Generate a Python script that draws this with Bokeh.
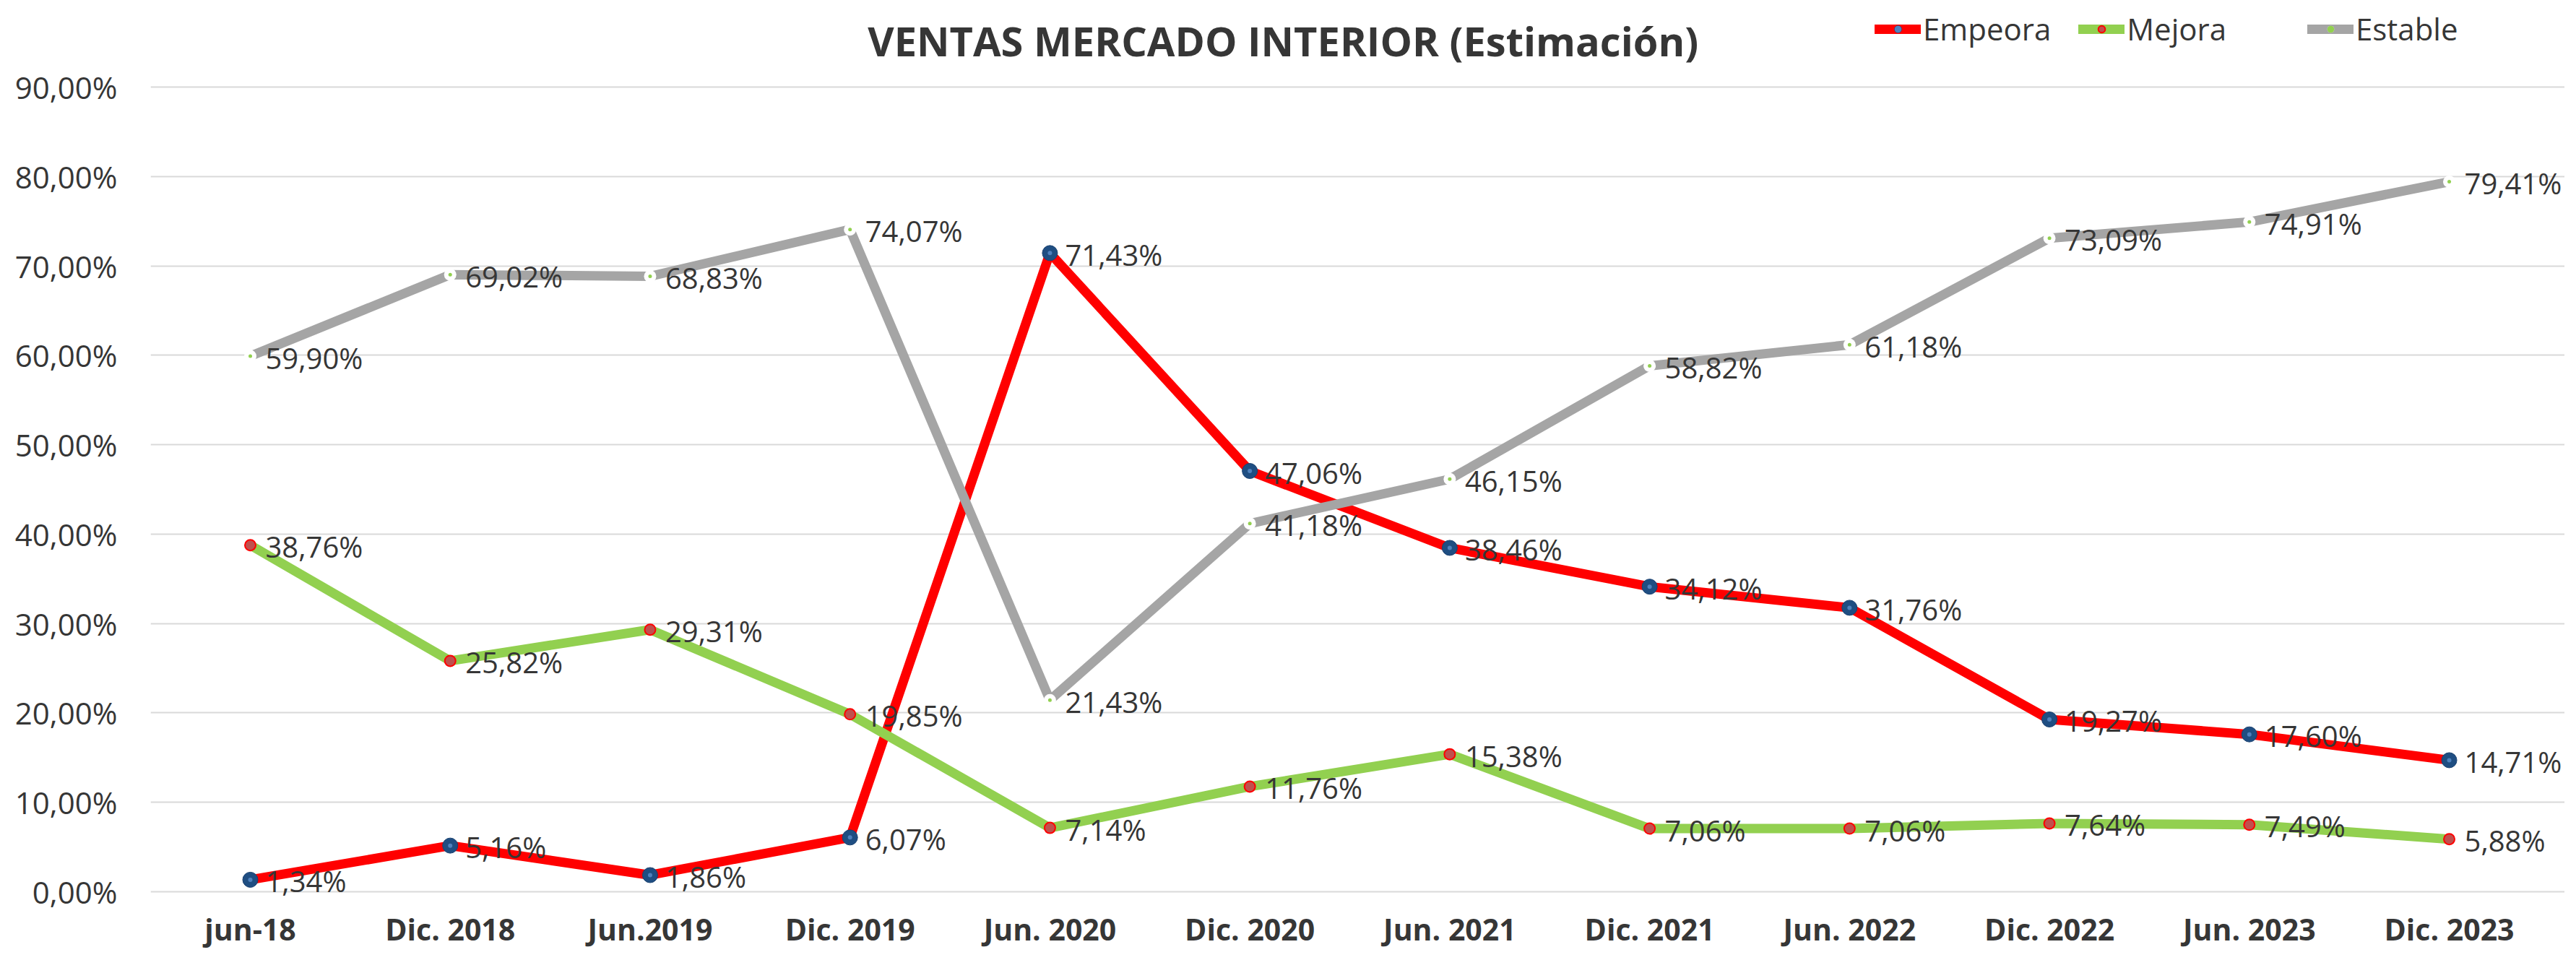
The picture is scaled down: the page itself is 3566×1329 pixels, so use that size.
from bokeh.plotting import figure
from bokeh.models import (Range1d, FixedTicker, Label, Legend, LegendItem,
                          ColumnDataSource)
from bokeh.core.properties import value
from bokeh.embed import file_html
from bokeh.resources import INLINE

categories = ["jun-18", "Dic. 2018", "Jun.2019", "Dic. 2019", "Jun. 2020", "Dic. 2020",
              "Jun. 2021", "Dic. 2021", "Jun. 2022", "Dic. 2022", "Jun. 2023", "Dic. 2023"]
empeora = [1.34, 5.16, 1.86, 6.07, 71.43, 47.06, 38.46, 34.12, 31.76, 19.27, 17.60, 14.71]
mejora = [38.76, 25.82, 29.31, 19.85, 7.14, 11.76, 15.38, 7.06, 7.06, 7.64, 7.49, 5.88]
estable = [59.90, 69.02, 68.83, 74.07, 21.43, 41.18, 46.15, 58.82, 61.18, 73.09, 74.91, 79.41]
y_ticks = [0, 10, 20, 30, 40, 50, 60, 70, 80, 90]
y_tick_labels = ["0,00%", "10,00%", "20,00%", "30,00%", "40,00%", "50,00%",
                 "60,00%", "70,00%", "80,00%", "90,00%"]
title_text = "VENTAS MERCADO INTERIOR  (Estimación)"


def fmt(v):
    return f"{v:.2f}".replace(".", ",") + "%"


# ---- layout (pixels) ----
W, H = 3550, 1313
FL = 208                      # frame left
Y0_PX, Y90_PX = 1234, 120     # where 0% and 90% sit (figure px from top)
PPU_Y = (Y0_PX - Y90_PX) / 90.0
PPU_X = 276.73                # width of one category band
X0_PX = 346                   # centre of first category (figure px)
TXT = "#363636"
FONT = "Open Sans"

n = len(categories)
xs = list(range(n))
x_start = -(X0_PX - FL) / PPU_X
x_end = (W - X0_PX) / PPU_X
y_start = -(H - Y0_PX) / PPU_Y
y_end = 90 + Y90_PX / PPU_Y

src = ColumnDataSource(dict(
    x=xs, emp=empeora, mej=mejora, est=estable,
    emp_l=[fmt(v) for v in empeora], mej_l=[fmt(v) for v in mejora],
    est_l=[fmt(v) for v in estable]))

p = figure(width=W, height=H, x_range=Range1d(x_start, x_end),
           y_range=Range1d(y_start, y_end), output_backend="svg",
           toolbar_location=None, min_border_left=FL, min_border_right=0,
           min_border_top=0, min_border_bottom=0)
p.outline_line_color = None
p.background_fill_color = "white"
p.border_fill_color = "white"

p.xgrid.grid_line_color = None
p.ygrid.grid_line_color = "#d9d9d9"
p.ygrid.grid_line_width = 2

p.yaxis.ticker = FixedTicker(ticks=y_ticks)
p.yaxis.major_label_overrides = {t: l for t, l in zip(y_ticks, y_tick_labels)}
p.xaxis.ticker = FixedTicker(ticks=xs)
p.xaxis.major_label_overrides = {i: c for i, c in zip(xs, categories)}
p.xaxis.fixed_location = 0
for ax in (p.xaxis, p.yaxis):
    ax.axis_line_color = None
    ax.major_tick_line_color = None
    ax.minor_tick_line_color = None
    ax.major_tick_out = 0
    ax.major_tick_in = 0
    ax.minor_tick_out = 0
    ax.minor_tick_in = 0
    ax.major_label_text_color = TXT
    ax.major_label_text_font = FONT
p.yaxis.major_label_text_font_size = "42px"
p.yaxis.major_label_standoff = 46
p.xaxis.major_label_text_font_size = "41px"
p.xaxis.major_label_text_font_style = "bold"
p.xaxis.major_label_standoff = 23

lw = 13
r_emp = p.line("x", "emp", source=src, line_color="#FF0000", line_width=lw,
               line_cap="round", line_join="round")
r_mej = p.line("x", "mej", source=src, line_color="#92D050", line_width=lw,
               line_cap="round", line_join="round")
r_est = p.line("x", "est", source=src, line_color="#A5A5A5", line_width=lw,
               line_cap="round", line_join="round")

s_emp = p.scatter("x", "emp", source=src, size=21, fill_color="#1F4E82",
                  line_color="#1A4170", line_width=1)
s_emp2 = p.scatter("x", "emp", source=src, size=6, fill_color="#4F81BD",
                   line_color=None)
s_mej = p.scatter("x", "mej", source=src, size=15, fill_color="#C0504D",
                  line_color="#FF0000", line_width=2)
s_est = p.scatter("x", "est", source=src, size=17, fill_color="white",
                  line_color=None)
s_est2 = p.scatter("x", "est", source=src, size=5, fill_color="#92D050",
                   line_color=None)

for col in ("emp", "mej", "est"):
    p.text("x", col, text=col + "_l", source=src, x_offset=21, y_offset=2,
           text_align="left", text_baseline="middle", text_font=value(FONT),
           text_font_size="40px", text_color=TXT)

leg_style = dict(orientation="horizontal", glyph_width=64, glyph_height=24,
                 label_standoff=3, spacing=38, padding=0, margin=0,
                 border_line_color=None, background_fill_alpha=0,
                 label_text_font=FONT, label_text_font_size="42px",
                 label_text_color=TXT)
legend1 = Legend(items=[
    LegendItem(label="Empeora", renderers=[r_emp, s_emp, s_emp2]),
    LegendItem(label="Mejora", renderers=[r_mej, s_mej]),
], location=(2387, H - 34 - 34), **leg_style)
legend2 = Legend(items=[
    LegendItem(label="Estable", renderers=[r_est, s_est, s_est2]),
], location=(2986, H - 34 - 34), **leg_style)
p.add_layout(legend1)
p.add_layout(legend2)

title = Label(x=1575, y=H - 55, x_units="screen", y_units="screen",
              text=title_text, text_align="center", text_baseline="alphabetic",
              text_font=FONT, text_font_style="bold", text_font_size="56px",
              text_color=TXT)
p.add_layout(title)

open("out.html", "w").write(file_html(p, INLINE))
